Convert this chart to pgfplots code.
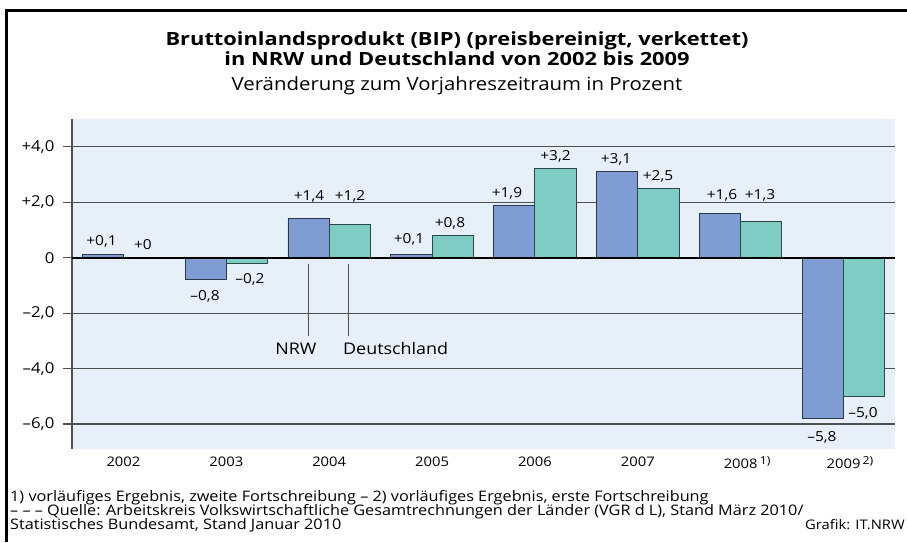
\documentclass[border=0pt]{standalone}
\usepackage{fontspec}
\setmainfont{Open Sans}[FakeStretch=1.12]
\newfontfamily\titlefont{Open Sans}[FakeStretch=1.2]
\usepackage{pgfplots}
\pgfplotsset{compat=1.18}
\definecolor{bgblue}{HTML}{E7EFF9}
\definecolor{nrw}{HTML}{7F9DD2}
\definecolor{de}{HTML}{7ECCC4}
\definecolor{gridc}{HTML}{505050}
\newcommand\lab{\fontsize{13.8}{14}\selectfont}
\newcommand\tlab{\fontsize{15}{15}\selectfont}
\newcommand\ylab{\fontsize{13.2}{14}\selectfont}
\newcommand\foot{\fontsize{14.5}{15}\selectfont}
\begin{document}
\begin{tikzpicture}[x=1pt,y=1pt]
\begin{scope}[shift={(-72pt,449pt)}]
\path[use as bounding box, fill=white] (0,0) rectangle (907,-542);
\draw[line width=3pt] (6.5,-542) -- (6.5,-11) -- (907,-11);
\node[anchor=base, inner sep=0, font=\titlefont\fontsize{18.2}{18}\selectfont\bfseries] at (457,-45) {Bruttoinlandsprodukt (BIP) (preisbereinigt, verkettet)};
\node[anchor=base, inner sep=0, font=\titlefont\fontsize{18.2}{18}\selectfont\bfseries] at (457,-65.3) {in NRW und Deutschland von 2002 bis 2009};
\node[anchor=base, inner sep=0, font=\fontsize{18.2}{18}\selectfont] at (457,-90.7) {Veränderung zum Vorjahreszeitraum in Prozent};
\node[anchor=base west, inner sep=0, font=\foot] at (10,-501) {1) vorläufiges Ergebnis, zweite Fortschreibung – 2) vorläufiges Ergebnis, erste Fortschreibung};
\node[anchor=base west, inner sep=0, font=\foot] at (10,-515) {– – – Quelle: Arbeitskreis Volkswirtschaftliche Gesamtrechnungen der Länder (VGR d L), Stand März 2010/};
\node[anchor=base west, inner sep=0, font=\foot] at (10,-529) {Statistisches Bundesamt, Stand Januar 2010};
\node[anchor=base east, inner sep=0, font=\fontsize{13.2}{14}\selectfont] at (905,-529) {Grafik: IT.NRW};
\end{scope}
\begin{axis}[
  width=823pt, height=330pt, scale only axis,
  xmin=-0.5, xmax=7.5, ymin=-6.9, ymax=5,
  axis background/.style={fill=bgblue},
  axis y line*=left, axis x line*=bottom,
  x axis line style={draw=none},
  y axis line style={-, draw=gridc, line width=1.2pt},
  ytick={-6,-4,-2,0,2,4},
  yticklabels={{–6,0},{–4,0},{–2,0},0,{+2,0},{+4,0}},
  ymajorgrids, grid style={gridc, line width=1.2pt},
  tick align=outside, major tick length=9pt,
  ytick style={gridc, line width=1.2pt},
  xtick={0,...,7},
  xticklabels={2002,2003,2004,2005,2006,2007,{2008\rlap{\,\raisebox{4pt}{\fontsize{11}{11}\selectfont 1)}}},{2009\rlap{\,\raisebox{4pt}{\fontsize{11}{11}\selectfont 2)}}}},
  xtick style={draw=none},
  yticklabel style={font=\tlab, xshift=-5pt},
  xticklabel style={font=\ylab, yshift=5pt},
  bar width=41.2pt,
  clip=false,
]
\addplot[ybar, bar shift=-20.6pt, fill=nrw, draw=nrw!35!black, line width=0.9pt]
  coordinates {(0,0.1) (1,-0.8) (2,1.4) (3,0.1) (4,1.9) (5,3.1) (6,1.6) (7,-5.8)};
\addplot[ybar, bar shift=20.6pt, fill=de, draw=de!35!black, line width=0.9pt]
  coordinates {(0,0.0) (1,-0.2) (2,1.2) (3,0.8) (4,3.2) (5,2.5) (6,1.3) (7,-5.0)};
\draw[black, line width=2pt] (axis cs:-0.5,0) -- (axis cs:7.5,0);
\draw[gridc, line width=1.2pt] (axis cs:1.797,-0.22) -- (axis cs:1.797,-2.81);
\draw[gridc, line width=1.2pt] (axis cs:2.186,-0.22) -- (axis cs:2.186,-2.81);
\begin{scope}[every node/.style={anchor=base, inner sep=0, font=\lab}]
\node at (axis cs:-0.213,0.432) {+0,1};
\node at (axis cs:0.190,0.288) {+0};
\node at (axis cs:0.793,-1.550) {–0,8};
\node at (axis cs:1.230,-0.937) {–0,2};
\node at (axis cs:1.804,2.054) {+1,4};
\node at (axis cs:2.202,2.054) {+1,2};
\node at (axis cs:2.776,0.505) {+0,1};
\node at (axis cs:3.174,1.081) {+0,8};
\node at (axis cs:3.728,2.162) {+1,9};
\node at (axis cs:4.200,3.495) {+3,2};
\node at (axis cs:4.788,3.387) {+3,1};
\node at (axis cs:5.196,2.793) {+2,5};
\node at (axis cs:5.818,2.108) {+1,6};
\node at (axis cs:6.188,2.108) {+1,3};
\node at (axis cs:7.189,-5.766) {–5,0};
\node at (axis cs:6.790,-6.631) {–5,8};
\node[font=\fontsize{16}{16}\selectfont] at (axis cs:1.677,-3.495) {NRW};
\node[anchor=base west, font=\fontsize{16}{16}\selectfont] at (axis cs:2.134,-3.495) {Deutschland};
\end{scope}
\end{axis}
\end{tikzpicture}
\end{document}
